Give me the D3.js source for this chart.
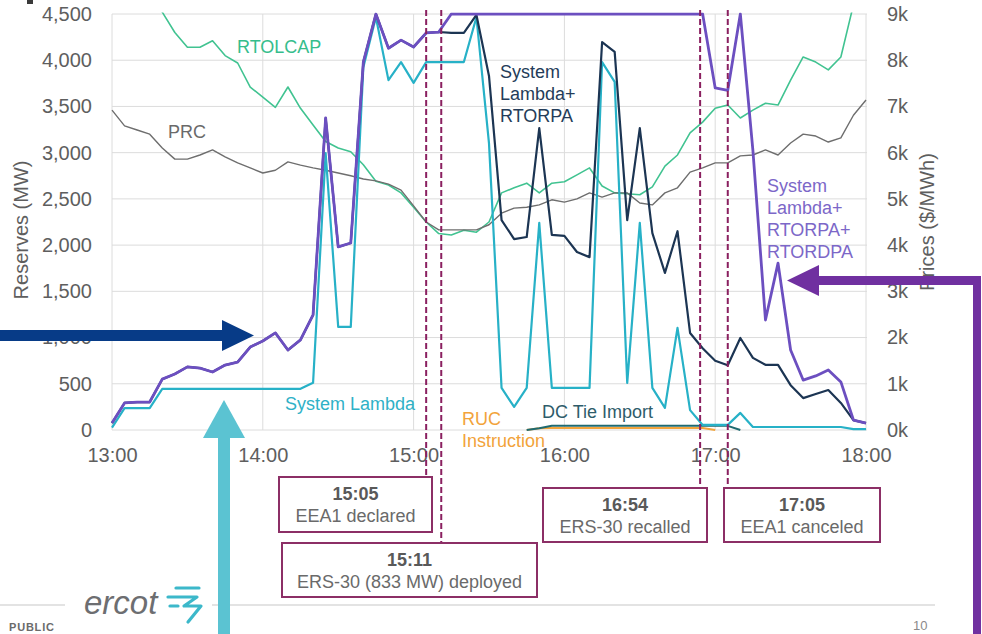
<!DOCTYPE html>
<html>
<head>
<meta charset="utf-8">
<script src="https://cdn.jsdelivr.net/npm/d3@7/dist/d3.min.js"></script>
<style>
  html, body { margin: 0; padding: 0; background: #fff; }
  svg { display: block; }
  text { font-family: "Liberation Sans", Arial, sans-serif; }
</style>
</head>
<body>
<svg id="chart" width="982" height="634"></svg>
<script>
// 5-minute intervals, 13:00 - 18:00
const times = [
  "13:00","13:05","13:10","13:15","13:20","13:25","13:30","13:35","13:40","13:45","13:50","13:55",
  "14:00","14:05","14:10","14:15","14:20","14:25","14:30","14:35","14:40","14:45","14:50","14:55",
  "15:00","15:05","15:10","15:15","15:20","15:25","15:30","15:35","15:40","15:45","15:50","15:55",
  "16:00","16:05","16:10","16:15","16:20","16:25","16:30","16:35","16:40","16:45","16:50","16:55",
  "17:00","17:05","17:10","17:15","17:20","17:25","17:30","17:35","17:40","17:45","17:50","17:55",
  "18:00"
];

// Reserves (MW), left axis
const rtolcap = [
  5200,5050,4900,4720,4520,4300,4140,4140,4210,4050,3970,3710,
  3600,3490,3710,3480,3300,3120,3050,3010,2870,2690,2650,2565,
  2410,2250,2125,2110,2160,2140,2250,2565,2620,2670,2565,2670,
  2685,2760,2835,2640,2565,2555,2545,2630,2855,2975,3215,3330,
  3480,3515,3375,3460,3535,3515,3785,4035,3980,3895,4035,4600,
  4900
];
const prc = [
  3460,3290,3245,3200,3050,2930,2930,2975,3030,2955,2890,2835,
  2780,2810,2900,2865,2835,2810,2780,2750,2715,2695,2660,2595,
  2425,2250,2165,2165,2165,2165,2220,2345,2400,2410,2435,2490,
  2465,2500,2565,2520,2565,2565,2455,2435,2565,2620,2790,2835,
  2890,2890,2965,2975,3030,2975,3105,3200,3180,3115,3160,3405,
  3570
];
const dcTieImport = [
  null,null,null,null,null,null,null,null,null,null,null,null,
  null,null,null,null,null,null,null,null,null,null,null,null,
  null,null,null,null,null,null,null,null,null,0,20,45,
  45,45,45,45,45,45,45,45,45,45,45,45,
  45,45,0,null,null,null,null,null,null,null,null,null,
  null
];
const rucInstruction = [
  null,null,null,null,null,null,null,null,null,null,null,null,
  null,null,null,null,null,null,null,null,null,null,null,null,
  null,null,null,null,null,null,null,null,null,0,20,22,
  22,22,22,22,22,22,22,22,22,22,22,22,
  0,null,null,null,null,null,null,null,null,null,null,null,
  null
];

// Prices ($/MWh), right axis
const systemLambda = [
  50,475,475,475,890,890,890,890,890,890,890,890,
  890,890,890,890,1020,5990,2230,2230,7850,8930,7570,7960,
  7510,7960,7960,7960,7960,8930,6200,910,500,910,4480,910,
  910,910,910,7960,7530,1020,4480,910,480,2210,430,110,
  110,110,370,65,65,65,65,65,65,65,65,20,
  20
];
const lambdaRtorpa = [
  150,585,605,605,1100,1210,1365,1340,1255,1405,1470,1795,
  1925,2100,1730,1950,2490,6750,3960,4045,7960,9000,8260,8435,
  8285,8590,8610,8590,8590,8980,7660,4540,4130,4175,6530,4220,
  4200,3850,3740,8390,8180,4540,6530,4260,3400,4300,2100,1770,
  1500,1400,1990,1560,1410,1410,970,690,780,865,585,215,
  150
];
const lambdaRtorpaRtordpa = [
  150,585,605,605,1100,1210,1365,1340,1255,1405,1470,1795,
  1925,2100,1730,1950,2490,6750,3960,4045,7960,9000,8260,8435,
  8285,8590,8610,9000,9000,9000,9000,9000,9000,9000,9000,9000,
  9000,9000,9000,9000,9000,9000,9000,9000,9000,9000,9000,9000,
  7400,7350,9000,6050,2380,3610,1730,1080,1170,1300,1040,215,
  150
];

// Axis ticks
const xTickLabels = ["13:00","14:00","15:00","16:00","17:00","18:00"];
const leftTicks = [0,500,1000,1500,2000,2500,3000,3500,4000,4500];
const rightTicks = [0,1000,2000,3000,4000,5000,6000,7000,8000,9000];

// Event markers
const eventTimes = ["15:05","15:11","16:54","17:05"];
const eventTitles = ["15:05","15:11","16:54","17:05"];
const eventTexts = ["EEA1 declared","ERS-30 (833 MW) deployed","ERS-30 recalled","EEA1 canceled"];

const parse = d3.timeParse("%H:%M");
const svg = d3.select("#chart");

const x = d3.scaleTime().domain([parse("13:00"), parse("18:00")]).range([112, 866]);
const yL = d3.scaleLinear().domain([0, 4500]).range([430, 14]);
const yR = d3.scaleLinear().domain([0, 9000]).range([430, 14]);

const tickColor = "#5e5e5e";
const gridColor = "#dcdcdc";

// grid
const grid = svg.append("g");
grid.selectAll("line.h").data(leftTicks).join("line")
  .attr("x1", 112).attr("x2", 867)
  .attr("y1", d => yL(d)).attr("y2", d => yL(d))
  .attr("stroke", gridColor).attr("stroke-width", 1);
grid.selectAll("line.v").data(xTickLabels).join("line")
  .attr("x1", d => x(parse(d))).attr("x2", d => x(parse(d)))
  .attr("y1", 14).attr("y2", 430)
  .attr("stroke", gridColor).attr("stroke-width", 1);

// axes
const axL = svg.append("g").attr("transform", "translate(112,0)")
  .call(d3.axisLeft(yL).tickValues(leftTicks).tickFormat(d3.format(",")).tickSize(0).tickPadding(20));
const axR = svg.append("g").attr("transform", "translate(866,0)")
  .call(d3.axisRight(yR).tickValues(rightTicks).tickFormat(d => (d / 1000) + "k").tickSize(0).tickPadding(21));
const axB = svg.append("g").attr("transform", "translate(0,430)")
  .call(d3.axisBottom(x).tickValues(xTickLabels.map(parse)).tickFormat(d3.timeFormat("%H:%M")).tickSize(0).tickPadding(18));
[axL, axR, axB].forEach(a => {
  a.select(".domain").remove();
  a.selectAll("text").attr("fill", tickColor).style("font-size", "20px")
    .style("font-family", "'Liberation Sans', Arial, sans-serif");
});

// axis titles
svg.append("text").attr("transform", "translate(28,230) rotate(-90)")
  .attr("text-anchor", "middle").attr("fill", tickColor).style("font-size", "20px")
  .text("Reserves (MW)");
svg.append("text").attr("transform", "translate(934,222) rotate(-90)")
  .attr("text-anchor", "middle").attr("fill", tickColor).style("font-size", "20px")
  .text("Prices ($/MWh)");

// plot clip
svg.append("defs").append("clipPath").attr("id", "plot")
  .append("rect").attr("x", 110).attr("y", 12.5).attr("width", 760).attr("height", 422);

const plot = svg.append("g").attr("clip-path", "url(#plot)");
const tx = times.map(parse);

function drawLine(values, yScale, color, width) {
  const line = d3.line()
    .defined(d => d[1] !== null)
    .x(d => x(d[0]))
    .y(d => yScale(d[1]));
  plot.append("path")
    .datum(tx.map((t, i) => [t, values[i]]))
    .attr("d", line)
    .attr("fill", "none")
    .attr("stroke", color)
    .attr("stroke-width", width)
    .attr("stroke-linejoin", "round");
}

drawLine(rtolcap, yL, "#41c391", 1.6);
drawLine(prc, yL, "#6e6e6e", 1.4);
drawLine(rucInstruction, yL, "#f2a43c", 2);
drawLine(dcTieImport, yL, "#1f6a70", 2);
drawLine(systemLambda, yR, "#27b1c7", 2.2);
drawLine(lambdaRtorpa, yR, "#1c3553", 2.2);
drawLine(lambdaRtorpaRtordpa, yR, "#6c4fc0", 2.8);

// series labels
function label(lines, xPos, yFirst, lineGap, color) {
  const t = svg.append("text").attr("fill", color).style("font-size", "18px");
  lines.forEach((s, i) => {
    t.append("tspan").attr("x", xPos).attr("y", yFirst + i * lineGap).text(s);
  });
}
label(["RTOLCAP"], 237, 53, 0, "#35bd8c");
label(["PRC"], 168, 138, 0, "#6a6a6a");
label(["System", "Lambda+", "RTORPA"], 500, 78, 22, "#243c59");
label(["System", "Lambda+", "RTORPA+", "RTORDPA"], 767, 192, 22, "#7c67c8");
label(["System Lambda"], 285, 410, 0, "#2fb1c7");
label(["RUC", "Instruction"], 462, 425, 22, "#f2a33a");
label(["DC Tie Import"], 542, 418, 0, "#2e5c6a");

// event markers and boxes
const boxes = [
  { x: 279, y: 477, w: 153, h: 55, lineEnd: 477 },
  { x: 282, y: 543, w: 255, h: 54, lineEnd: 543 },
  { x: 543, y: 488, w: 164, h: 54, lineEnd: 488 },
  { x: 724, y: 488, w: 156, h: 54, lineEnd: 488 }
];
const markColor = "#8a2060";
eventTimes.forEach((t, i) => {
  const xp = x(parse(t));
  svg.append("line")
    .attr("x1", xp).attr("x2", xp).attr("y1", 10).attr("y2", boxes[i].lineEnd)
    .attr("stroke", markColor).attr("stroke-width", 2).attr("stroke-dasharray", "6,3");
});
eventTimes.forEach((t, i) => {
  const b = boxes[i];
  svg.append("rect").attr("x", b.x).attr("y", b.y).attr("width", b.w).attr("height", b.h)
    .attr("fill", "#fff").attr("stroke", "#8c2f66").attr("stroke-width", 2);
  svg.append("text").attr("x", b.x + b.w / 2).attr("y", b.y + 23)
    .attr("text-anchor", "middle").attr("fill", "#595959")
    .style("font-size", "18px").style("font-weight", "bold").text(eventTitles[i]);
  svg.append("text").attr("x", b.x + b.w / 2).attr("y", b.y + 45)
    .attr("text-anchor", "middle").attr("fill", "#6a6a6a")
    .style("font-size", "18px").text(eventTexts[i]);
});

// footer
svg.append("line").attr("x1", 0).attr("x2", 65).attr("y1", 605).attr("y2", 605)
  .attr("stroke", "#c8c8c8").attr("stroke-width", 1.2);
svg.append("line").attr("x1", 212).attr("x2", 935).attr("y1", 605).attr("y2", 605)
  .attr("stroke", "#c8c8c8").attr("stroke-width", 1.2);
svg.append("text").attr("x", 9).attr("y", 631).attr("fill", "#6b6b6b")
  .style("font-size", "11px").style("font-weight", "bold").style("letter-spacing", "0.8px").text("PUBLIC");
svg.append("text").attr("x", 913).attr("y", 630).attr("fill", "#8a8a8a")
  .style("font-size", "13px").text("10");
svg.append("text").attr("x", 84).attr("y", 614).attr("fill", "#6d6e71")
  .style("font-size", "33px").style("font-style", "italic").text("ercot");
const logo = svg.append("g").attr("fill", "none").attr("stroke", "#3cb8ca")
  .attr("stroke-width", 3.2).attr("stroke-linecap", "round").attr("stroke-linejoin", "round");
logo.append("path").attr("d", "M176,588 L199,588");
logo.append("path").attr("d", "M168,597 L197,597 L184,606 L201,606 L188,622");
logo.append("path").attr("d", "M170,606 L178,606");

// small mark top-left
svg.append("rect").attr("x", 27).attr("y", 0).attr("width", 6).attr("height", 4).attr("fill", "#3a3a3a");

// callout arrows
// dark blue arrow pointing right
svg.append("rect").attr("x", 0).attr("y", 330).attr("width", 225).attr("height", 11).attr("fill", "#073b87");
svg.append("path").attr("d", "M222,320 L254,335.5 L222,351 Z").attr("fill", "#073b87");
// cyan arrow pointing up
svg.append("rect").attr("x", 218).attr("y", 436).attr("width", 12).attr("height", 200).attr("fill", "#5bc3d2");
svg.append("path").attr("d", "M203,438 L224,400 L245,438 Z").attr("fill", "#5bc3d2");
// purple elbow arrow pointing left
svg.append("rect").attr("x", 973).attr("y", 276).attr("width", 8).attr("height", 360).attr("fill", "#7030a0");
svg.append("rect").attr("x", 815).attr("y", 276).attr("width", 166).attr("height", 9).attr("fill", "#7030a0");
svg.append("path").attr("d", "M819,265 L787,280.5 L819,296 Z").attr("fill", "#7030a0");
</script>
</body>
</html>
